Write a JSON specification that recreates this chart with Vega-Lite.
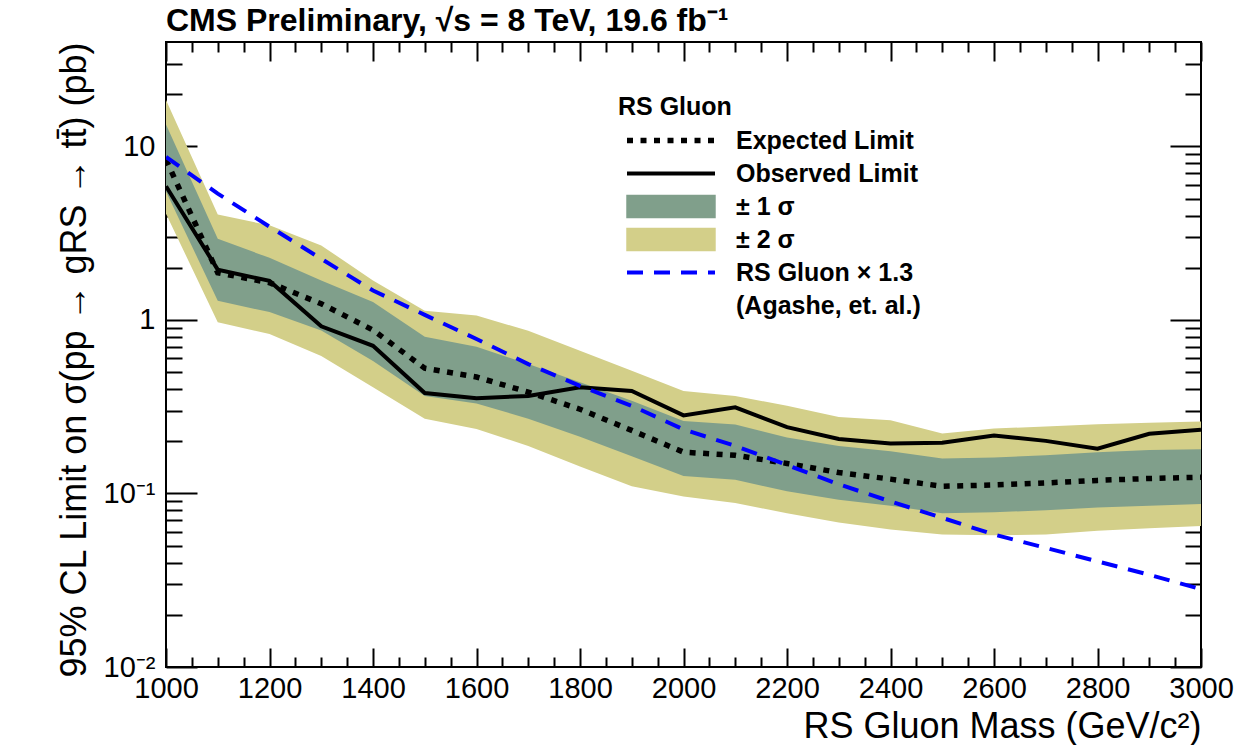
{
  "$schema": "https://vega.github.io/schema/vega-lite/v6.json",
  "width": 1035,
  "height": 625,
  "autosize": {"type": "none"},
  "padding": {"left": 166, "top": 42, "right": 52, "bottom": 78},
  "background": "white",
  "title": {"text": "CMS Preliminary, √s = 8 TeV, 19.6 fb⁻¹", "anchor": "start", "frame": "group", "fontSize": 32, "fontWeight": "bold", "font": "Liberation Sans", "color": "black", "offset": 3},
  "config": {
    "view": {"stroke": "black", "strokeWidth": 2},
    "font": "Liberation Sans",
    "axis": {"domain": false, "grid": false, "tickColor": "black", "tickWidth": 2, "labelColor": "black", "labelFont": "Liberation Sans", "labelFontSize": 29, "titleColor": "black", "titleFont": "Liberation Sans", "titleFontSize": 36, "titleFontWeight": "normal", "labelOverlap": false, "labelFlush": false}
  },
  "data": {"values": [
    {"m": 1000, "exp": 8.4, "obs": 5.9, "th": 8.7, "lo1": 5.5, "hi1": 13.4, "lo2": 4.1, "hi2": 18.5},
    {"m": 1100, "exp": 1.87, "obs": 1.95, "th": 5.35, "lo1": 1.29, "hi1": 2.94, "lo2": 0.97, "hi2": 4.05},
    {"m": 1200, "exp": 1.64, "obs": 1.68, "th": 3.45, "lo1": 1.11, "hi1": 2.28, "lo2": 0.83, "hi2": 3.51},
    {"m": 1300, "exp": 1.24, "obs": 0.92, "th": 2.25, "lo1": 0.87, "hi1": 1.69, "lo2": 0.62, "hi2": 2.69},
    {"m": 1400, "exp": 0.875, "obs": 0.71, "th": 1.48, "lo1": 0.58, "hi1": 1.27, "lo2": 0.41, "hi2": 1.69},
    {"m": 1500, "exp": 0.527, "obs": 0.379, "th": 1.07, "lo1": 0.365, "hi1": 0.8, "lo2": 0.27, "hi2": 1.13},
    {"m": 1600, "exp": 0.469, "obs": 0.354, "th": 0.777, "lo1": 0.33, "hi1": 0.7, "lo2": 0.235, "hi2": 1.06},
    {"m": 1700, "exp": 0.384, "obs": 0.365, "th": 0.557, "lo1": 0.27, "hi1": 0.557, "lo2": 0.188, "hi2": 0.867},
    {"m": 1800, "exp": 0.306, "obs": 0.41, "th": 0.417, "lo1": 0.212, "hi1": 0.438, "lo2": 0.143, "hi2": 0.665},
    {"m": 1900, "exp": 0.231, "obs": 0.39, "th": 0.32, "lo1": 0.164, "hi1": 0.342, "lo2": 0.11, "hi2": 0.509},
    {"m": 2000, "exp": 0.173, "obs": 0.282, "th": 0.234, "lo1": 0.126, "hi1": 0.262, "lo2": 0.096, "hi2": 0.39},
    {"m": 2100, "exp": 0.166, "obs": 0.314, "th": 0.188, "lo1": 0.12, "hi1": 0.25, "lo2": 0.088, "hi2": 0.365},
    {"m": 2200, "exp": 0.149, "obs": 0.241, "th": 0.146, "lo1": 0.103, "hi1": 0.21, "lo2": 0.077, "hi2": 0.32},
    {"m": 2300, "exp": 0.132, "obs": 0.206, "th": 0.113, "lo1": 0.092, "hi1": 0.188, "lo2": 0.068, "hi2": 0.276},
    {"m": 2400, "exp": 0.121, "obs": 0.194, "th": 0.09, "lo1": 0.085, "hi1": 0.175, "lo2": 0.062, "hi2": 0.264},
    {"m": 2500, "exp": 0.11, "obs": 0.196, "th": 0.0724, "lo1": 0.077, "hi1": 0.159, "lo2": 0.058, "hi2": 0.222},
    {"m": 2600, "exp": 0.112, "obs": 0.216, "th": 0.058, "lo1": 0.078, "hi1": 0.161, "lo2": 0.0575, "hi2": 0.237},
    {"m": 2700, "exp": 0.115, "obs": 0.201, "th": 0.0486, "lo1": 0.08, "hi1": 0.166, "lo2": 0.058, "hi2": 0.243},
    {"m": 2800, "exp": 0.119, "obs": 0.181, "th": 0.0406, "lo1": 0.083, "hi1": 0.173, "lo2": 0.061, "hi2": 0.251},
    {"m": 2900, "exp": 0.122, "obs": 0.221, "th": 0.034, "lo1": 0.085, "hi1": 0.178, "lo2": 0.063, "hi2": 0.256},
    {"m": 3000, "exp": 0.124, "obs": 0.233, "th": 0.0281, "lo1": 0.087, "hi1": 0.18, "lo2": 0.065, "hi2": 0.26}
  ]},
  "resolve": {"axis": {"x": "independent", "y": "independent"}},
  "layer": [
    {
      "mark": {"type": "area", "color": "#d3cf89", "clip": true},
      "encoding": {
        "x": {"field": "m", "type": "quantitative", "scale": {"domain": [1000, 3000], "nice": false, "zero": false},
          "axis": {"orient": "bottom", "title": "RS Gluon Mass (GeV/c²)", "titleAnchor": "end", "titlePadding": -3,
            "values": [1000,1050,1100,1150,1200,1250,1300,1350,1400,1450,1500,1550,1600,1650,1700,1750,1800,1850,1900,1950,2000,2050,2100,2150,2200,2250,2300,2350,2400,2450,2500,2550,2600,2650,2700,2750,2800,2850,2900,2950,3000],
            "format": "d", "labelExpr": "datum.value % 200 === 0 ? datum.label : ''",
            "tickSize": {"condition": {"test": "datum.value % 200 === 0", "value": -19}, "value": -10},
            "labelPadding": 26}},
        "y": {"field": "hi2", "type": "quantitative", "scale": {"type": "log", "domain": [0.01, 40], "nice": false, "zero": false},
          "axis": {"orient": "left", "title": "95% CL Limit on σ(pp → gRS → tt̄) (pb)", "titleAnchor": "end", "titlePadding": 10,
            "values": [0.01,0.02,0.03,0.04,0.05,0.06,0.07,0.08,0.09,0.1,0.2,0.3,0.4,0.5,0.6,0.7,0.8,0.9,1,2,3,4,5,6,7,8,9,10,20,30],
            "labelExpr": "datum.value === 10 ? '10' : datum.value === 1 ? '1' : datum.value === 0.1 ? '10⁻¹' : datum.value === 0.01 ? '10⁻²' : ''",
            "tickSize": {"condition": {"test": "datum.value === 0.01 || datum.value === 0.1 || datum.value === 1 || datum.value === 10", "value": -31}, "value": -16},
            "labelPadding": 42}},
        "y2": {"field": "lo2"},
        "color": {"datum": "± 2 σ", "type": "nominal",
          "scale": {"domain": ["Expected Limit", "Observed Limit", "± 1 σ", "± 2 σ", "RS Gluon × 1.3", "(Agashe, et. al.)"], "range": ["black", "black", "#809f8b", "#d3cf89", "#0000ff", "transparent"]},
          "legend": {"orient": "none", "legendX": 452, "legendY": 53, "title": "RS Gluon", "titleFont": "Liberation Sans", "titleFontSize": 25, "titleFontWeight": "bold", "titleColor": "black", "titlePadding": 5,
            "labelFont": "Liberation Sans", "labelFontSize": 25, "labelFontWeight": "bold", "labelColor": "black", "labelLimit": 400, "labelOffset": 93,
            "symbolOffset": 0, "symbolSize": 961, "symbolType": "stroke", "clipHeight": 31, "rowPadding": 2, "padding": 0,
            "encode": {"symbols": {"update": {
              "shape": {"signal": "datum.value === '± 1 σ' || datum.value === '± 2 σ' ? 'M-0.225,-0.71H5.45V0.71H-0.225Z' : 'M-0.225,0H5.45'"},
              "fill": {"signal": "datum.value === '± 1 σ' ? '#809f8b' : datum.value === '± 2 σ' ? '#d3cf89' : 'transparent'"},
              "stroke": {"signal": "datum.value === 'RS Gluon × 1.3' ? '#0000ff' : datum.value === '(Agashe, et. al.)' ? 'transparent' : 'black'"},
              "strokeWidth": {"signal": "datum.value === '± 1 σ' || datum.value === '± 2 σ' ? 1.5 : datum.value === 'Expected Limit' ? 5.5 : 4"},
              "strokeDash": {"signal": "datum.value === 'Expected Limit' ? [6, 7.5] : datum.value === 'RS Gluon × 1.3' ? [16, 11] : [1, 0]"},
              "opacity": {"value": 1}
            }}}}}
      }
    },
    {
      "mark": {"type": "area", "color": "#809f8b", "clip": true},
      "encoding": {
        "x": {"field": "m", "type": "quantitative", "scale": {"domain": [1000, 3000], "nice": false, "zero": false},
          "axis": {"orient": "top", "title": null, "labels": false,
            "values": [1000,1050,1100,1150,1200,1250,1300,1350,1400,1450,1500,1550,1600,1650,1700,1750,1800,1850,1900,1950,2000,2050,2100,2150,2200,2250,2300,2350,2400,2450,2500,2550,2600,2650,2700,2750,2800,2850,2900,2950,3000],
            "tickSize": {"condition": {"test": "datum.value % 200 === 0", "value": -19}, "value": -10}}},
        "y": {"field": "hi1", "type": "quantitative", "scale": {"type": "log", "domain": [0.01, 40], "nice": false, "zero": false},
          "axis": {"orient": "right", "title": null, "labels": false,
            "values": [0.01,0.02,0.03,0.04,0.05,0.06,0.07,0.08,0.09,0.1,0.2,0.3,0.4,0.5,0.6,0.7,0.8,0.9,1,2,3,4,5,6,7,8,9,10,20,30],
            "tickSize": {"condition": {"test": "datum.value === 0.01 || datum.value === 0.1 || datum.value === 1 || datum.value === 10", "value": -31}, "value": -16}}},
        "y2": {"field": "lo1"},
        "color": {"datum": "± 1 σ", "type": "nominal"}
      }
    },
    {
      "mark": {"type": "line", "strokeWidth": 5.5, "strokeDash": [6, 7.5], "strokeCap": "butt", "clip": true},
      "encoding": {
        "x": {"field": "m", "type": "quantitative", "scale": {"domain": [1000, 3000], "nice": false, "zero": false}, "axis": null},
        "y": {"field": "exp", "type": "quantitative", "scale": {"type": "log", "domain": [0.01, 40], "nice": false, "zero": false}, "axis": null},
        "color": {"datum": "Expected Limit", "type": "nominal"}
      }
    },
    {
      "mark": {"type": "line", "strokeWidth": 4, "clip": true},
      "encoding": {
        "x": {"field": "m", "type": "quantitative", "scale": {"domain": [1000, 3000], "nice": false, "zero": false}, "axis": null},
        "y": {"field": "obs", "type": "quantitative", "scale": {"type": "log", "domain": [0.01, 40], "nice": false, "zero": false}, "axis": null},
        "color": {"datum": "Observed Limit", "type": "nominal"}
      }
    },
    {
      "mark": {"type": "line", "strokeWidth": 4, "strokeDash": [16, 11], "strokeCap": "butt", "clip": true},
      "encoding": {
        "x": {"field": "m", "type": "quantitative", "scale": {"domain": [1000, 3000], "nice": false, "zero": false}, "axis": null},
        "y": {"field": "th", "type": "quantitative", "scale": {"type": "log", "domain": [0.01, 40], "nice": false, "zero": false}, "axis": null},
        "color": {"datum": "RS Gluon × 1.3", "type": "nominal"}
      }
    }
  ]
}
